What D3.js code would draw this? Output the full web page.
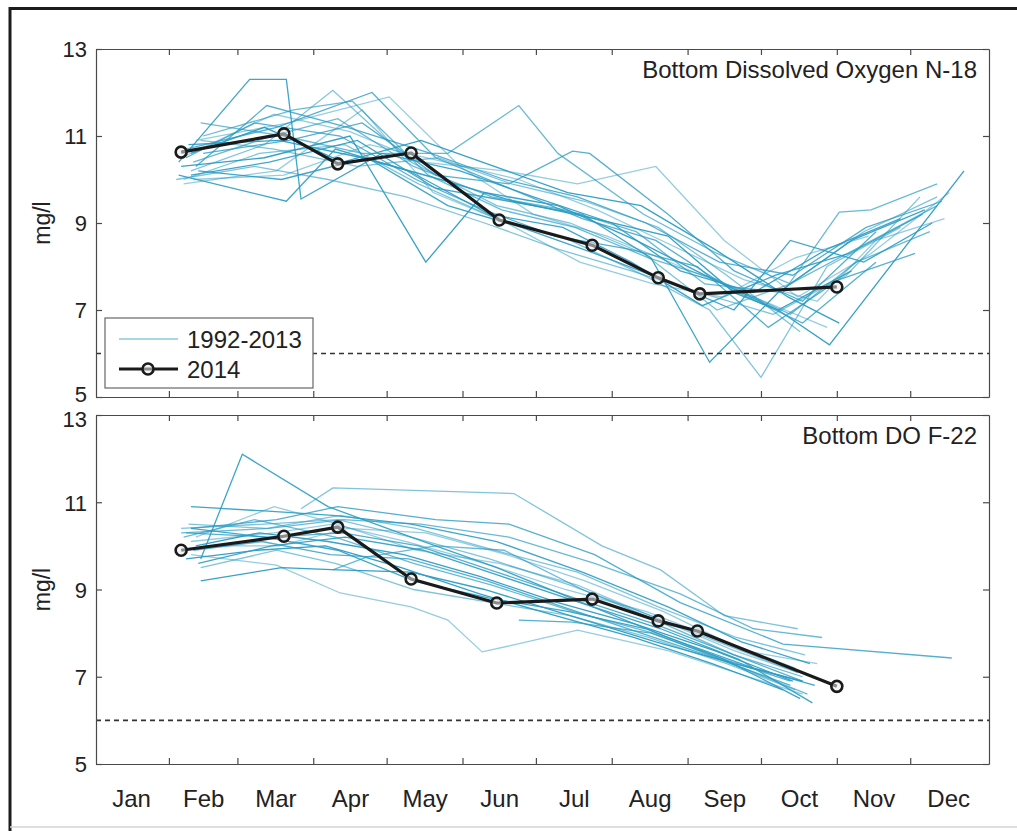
<!DOCTYPE html>
<html>
<head>
<meta charset="utf-8">
<script src="https://cdn.jsdelivr.net/npm/d3@7"></script>
<style>
  html, body { margin: 0; padding: 0; background: #fff; }
  svg { display: block; font-family: "Liberation Sans", Arial, Helvetica, sans-serif; }
</style>
</head>
<body>
<svg id="chart" width="1017" height="831"></svg>
<script>
// ---- axis definitions ----
const monthNames = ["Jan", "Feb", "Mar", "Apr", "May", "Jun", "Jul", "Aug", "Sep", "Oct", "Nov", "Dec"];
const monthStartDays = [31, 59, 90, 120, 151, 181, 212, 243, 273, 304, 334];
const monthMidDays = [15.5, 45, 74.5, 105, 135.5, 166, 196.5, 227.5, 258, 288.5, 319, 349.5];
const yTickValues = [5, 7, 9, 11, 13];
const doStandard = 6;
const legendLabels = ["1992-2013", "2014"];
const panelTitles = ["Bottom Dissolved Oxygen N-18", "Bottom DO F-22"];

// ---- 2014 survey, [day of year, mg/l] ----
const n18Year2014 = [[36, 10.63], [78, 11.05], [100, 10.36], [130, 10.61], [166, 9.07], [204, 8.49], [231, 7.74], [248, 7.37], [304, 7.53]];
const f22Year2014 = [[36, 9.90], [78, 10.22], [100, 10.43], [130, 9.24], [165, 8.69], [204, 8.78], [231, 8.28], [247, 8.05], [304, 6.78]];

// ---- station N-18, 1992-2013 ----
const n18History = [
  [[35, 10.4], [64, 12.3], [79, 12.3], [85, 9.55], [118, 10.6], [150, 10.2], [180, 9.6], [212, 9.0], [240, 7.9], [270, 7.4], [300, 8.4], [330, 9.1]],
  [[40, 10.2], [70, 10.8], [98, 12.05], [130, 10.4], [165, 9.4], [195, 9.0], [225, 8.3], [255, 7.0], [285, 7.6], [315, 8.8], [345, 9.6]],
  [[38, 10.7], [75, 11.2], [114, 12.0], [140, 10.5], [170, 9.8], [200, 9.1], [230, 8.6], [260, 7.5], [290, 6.7], [320, 8.1]],
  [[42, 10.9], [80, 11.3], [121, 11.9], [150, 10.3], [180, 9.2], [210, 8.7], [240, 8.0], [270, 7.3], [300, 6.6]],
  [[36, 10.3], [70, 10.5], [105, 11.0], [136, 8.1], [160, 9.7], [190, 9.4], [222, 8.6], [250, 7.8], [280, 7.0], [310, 7.9]],
  [[44, 11.3], [78, 11.0], [110, 10.6], [145, 10.6], [174, 11.7], [190, 10.6], [225, 9.2], [255, 8.3], [285, 7.6], [315, 8.5], [345, 9.4]],
  [[40, 10.1], [72, 10.4], [108, 10.9], [140, 9.8], [170, 9.5], [200, 9.2], [228, 8.2], [252, 5.8], [280, 7.4], [310, 8.6], [340, 9.3]],
  [[37, 10.0], [68, 10.6], [103, 10.8], [133, 9.9], [165, 9.1], [195, 8.6], [225, 7.8], [252, 7.0], [273, 5.45], [300, 8.0], [330, 8.9]],
  [[45, 10.6], [80, 10.9], [110, 11.3], [140, 10.1], [170, 9.9], [196, 10.65], [203, 10.6], [235, 9.2], [262, 7.9], [290, 7.2], [320, 8.8]],
  [[36, 10.5], [74, 11.5], [105, 11.1], [135, 10.4], [168, 10.2], [198, 9.9], [230, 10.3], [258, 8.6], [288, 7.3], [318, 8.3], [350, 9.7]],
  [[39, 10.8], [76, 10.9], [110, 10.5], [142, 10.0], [172, 9.5], [205, 9.1], [235, 8.7], [262, 7.4], [280, 7.0], [301, 6.2], [356, 10.2]],
  [[41, 10.4], [73, 11.0], [100, 11.4], [131, 10.3], [163, 9.6], [193, 9.3], [222, 8.8], [250, 7.6], [282, 7.4], [305, 9.25], [318, 9.3], [345, 9.9]],
  [[43, 10.2], [77, 10.0], [112, 10.5], [145, 9.4], [175, 8.9], [205, 8.3], [233, 7.7], [262, 7.0], [285, 8.6], [315, 8.1], [343, 9.0]],
  [[34, 10.0], [66, 10.3], [96, 10.0], [128, 9.6], [160, 9.0], [190, 8.4], [220, 7.9], [248, 7.4], [278, 6.9], [308, 7.8], [338, 9.6]],
  [[42, 10.3], [71, 11.7], [104, 11.2], [138, 10.6], [168, 10.0], [198, 9.6], [226, 9.0], [256, 8.1], [286, 7.8], [316, 8.9], [347, 9.5]],
  [[37, 9.9], [75, 10.2], [110, 11.6], [139, 9.7], [169, 9.0], [199, 8.1], [229, 7.6], [257, 7.3], [287, 8.2], [317, 8.7]],
  [[40, 10.6], [70, 11.2], [102, 10.4], [134, 10.9], [164, 10.3], [194, 9.7], [224, 9.4], [254, 8.4], [284, 7.3], [305, 6.7]],
  [[45, 11.0], [82, 11.6], [106, 11.8], [137, 10.1], [167, 9.3], [197, 8.9], [227, 8.2], [255, 7.7], [285, 6.9], [312, 8.1], [342, 8.8]],
  [[35, 10.1], [79, 9.5], [99, 10.7], [129, 10.2], [162, 9.2], [192, 8.9], [220, 8.1], [249, 7.1], [279, 7.8], [309, 8.3], [339, 9.2]],
  [[44, 10.9], [74, 10.7], [108, 10.3], [141, 10.5], [171, 9.9], [201, 9.5], [231, 8.9], [259, 7.8], [289, 6.5]],
  [[38, 10.5], [66, 11.3], [101, 11.0], [132, 10.0], [160, 9.3], [189, 8.7], [219, 8.4], [247, 8.0], [276, 6.6], [305, 7.7], [336, 8.3]],
  [[41, 10.0], [78, 10.1], [113, 10.8], [144, 10.4], [174, 10.0], [206, 9.3], [236, 8.5], [266, 7.7], [296, 7.2], [320, 8.6], [348, 9.1]]
];

// ---- station F-22, 1992-2013 ----
const f22History = [
  [[44, 9.7], [61, 12.1], [96, 10.9], [130, 10.2], [165, 9.5], [200, 8.7], [235, 7.9], [270, 7.2], [295, 6.8]],
  [[85, 10.85], [98, 11.33], [172, 11.2], [208, 10.0], [232, 9.45], [258, 8.4], [288, 8.1]],
  [[40, 10.4], [75, 10.6], [100, 10.9], [140, 10.6], [170, 10.5], [205, 9.8], [240, 8.7], [282, 7.75], [351, 7.43]],
  [[40, 9.8], [75, 9.56], [101, 8.92], [130, 8.6], [145, 8.3], [159, 7.57], [172, 7.73], [198, 8.07], [235, 7.6], [268, 7.0], [290, 6.6]],
  [[44, 9.2], [77, 9.5], [100, 9.45], [130, 9.4], [160, 9.0], [195, 8.4], [230, 7.8], [262, 7.3], [290, 6.9]],
  [[98, 9.45], [112, 9.75], [140, 10.0], [168, 9.9], [200, 9.0], [230, 8.3], [262, 7.5], [290, 7.0]],
  [[40, 10.9], [70, 10.8], [98, 10.7], [130, 10.5], [165, 10.1], [200, 9.4], [235, 8.6], [265, 7.8], [293, 7.3]],
  [[36, 10.4], [70, 10.5], [100, 10.6], [130, 10.2], [162, 9.7], [195, 9.1], [228, 8.4], [260, 7.7], [288, 7.1]],
  [[38, 10.3], [72, 10.2], [102, 10.3], [133, 10.0], [165, 9.4], [197, 8.8], [230, 8.2], [262, 7.5], [290, 6.9]],
  [[40, 10.1], [74, 10.3], [98, 10.5], [128, 10.1], [160, 9.6], [193, 9.0], [226, 8.5], [258, 7.8], [287, 7.2]],
  [[42, 10.0], [68, 10.3], [96, 10.1], [127, 9.8], [158, 9.3], [190, 8.7], [222, 8.2], [254, 7.6], [286, 6.9]],
  [[37, 10.2], [66, 10.6], [99, 10.2], [131, 9.6], [163, 9.1], [196, 8.5], [229, 8.0], [261, 7.3], [292, 6.6]],
  [[43, 9.6], [73, 10.0], [103, 10.2], [135, 9.9], [167, 9.3], [199, 8.7], [232, 8.1], [264, 7.4], [294, 6.4]],
  [[39, 10.5], [71, 10.4], [101, 10.7], [132, 10.4], [164, 9.9], [198, 9.4], [231, 8.6], [263, 7.9], [291, 7.5]],
  [[41, 9.9], [69, 10.1], [97, 9.8], [129, 9.7], [161, 9.2], [192, 8.6], [224, 8.0], [256, 7.4], [285, 6.8]],
  [[45, 10.0], [76, 10.0], [104, 10.4], [136, 10.3], [169, 9.8], [201, 9.2], [233, 8.5], [266, 7.6], [296, 7.3]],
  [[38, 9.7], [67, 9.9], [95, 10.0], [126, 9.5], [158, 8.9], [189, 8.4], [221, 7.9], [253, 7.3], [282, 6.7]],
  [[36, 10.3], [72, 10.4], [102, 10.6], [134, 10.5], [170, 10.2], [205, 9.6], [240, 8.9], [270, 8.1], [298, 7.9]],
  [[40, 10.4], [70, 10.2], [100, 9.9], [131, 9.2], [162, 8.8], [194, 8.5], [226, 8.1], [258, 7.4], [289, 6.5]],
  [[44, 9.5], [75, 9.9], [99, 9.6], [131, 9.0], [163, 8.7], [195, 8.4], [227, 7.9], [259, 7.3], [287, 6.7]],
  [[174, 8.3], [196, 8.25], [228, 8.0], [258, 7.4], [285, 6.9]],
  [[42, 10.2], [74, 10.9], [100, 10.5], [132, 9.9], [166, 9.6], [198, 9.1], [232, 8.3], [262, 7.6], [288, 7.1]]
];

// ---- layout ----
const svg = d3.select("#chart");
const left = 96, right = 989;
const panels = [
  { top: 49, bottom: 397, history: n18History, current: n18Year2014, title: panelTitles[0], legend: true, dashFrom: left },
  { top: 415, bottom: 764, history: f22History, current: f22Year2014, title: panelTitles[1], legend: false, dashFrom: left }
];

const x = d3.scaleLinear().domain([1.2, 366.2]).range([left, right]);
const histColor = "#2a9cc3";
const boxColor = "#4a4a4a";

// figure frame
svg.append("rect").attr("x", 0).attr("y", 0).attr("width", 1017).attr("height", 831).attr("fill", "#fff");
svg.append("path").attr("d", "M10,831 L10,8.5 L1017,8.5").attr("fill", "none").attr("stroke", "#1c1c1c").attr("stroke-width", 3);
svg.append("line").attr("x1", 10).attr("x2", 1017).attr("y1", 827).attr("y2", 827).attr("stroke", "#d4d4d4").attr("stroke-width", 1.5);

panels.forEach((p, i) => {
  const y = d3.scaleLinear().domain([5, 13]).range([p.bottom, p.top]);
  const g = svg.append("g");

  // 1992-2013 traces
  const line = d3.line().x(d => x(d[0])).y(d => y(d[1]));
  g.append("g").selectAll("path").data(p.history).join("path")
    .attr("d", line)
    .attr("fill", "none")
    .attr("stroke", histColor)
    .attr("stroke-width", 1.3)
    .attr("stroke-opacity", (d, k) => [0.9, 0.6, 0.8, 0.5, 0.95, 0.7][k % 6]);

  // 6 mg/l reference
  g.append("line")
    .attr("x1", x.range()[0]).attr("x2", right)
    .attr("y1", y(doStandard)).attr("y2", y(doStandard))
    .attr("stroke", "#333").attr("stroke-width", 1.6)
    .attr("stroke-dasharray", "5,4");

  // 2014 trace
  g.append("path").datum(p.current)
    .attr("d", line)
    .attr("fill", "none")
    .attr("stroke", "#1a1a1a")
    .attr("stroke-width", 3.2)
    .attr("stroke-linejoin", "round");
  g.append("g").selectAll("circle").data(p.current).join("circle")
    .attr("cx", d => x(d[0])).attr("cy", d => y(d[1]))
    .attr("r", 5.5)
    .attr("fill", "rgba(235,235,235,0.55)")
    .attr("stroke", "#1a1a1a").attr("stroke-width", 2.6);

  // axes box with inward ticks on all sides
  const axL = d3.axisLeft(y).tickValues(yTickValues).tickSizeInner(-6).tickSizeOuter(0).tickPadding(9).tickFormat(d3.format("d"));
  const axR = d3.axisRight(y).tickValues(yTickValues).tickSizeInner(-6).tickSizeOuter(0).tickFormat("");
  const axB = d3.axisBottom(x).tickValues(monthStartDays).tickSizeInner(-6).tickSizeOuter(0).tickFormat("");
  const axT = d3.axisTop(x).tickValues(monthStartDays).tickSizeInner(-6).tickSizeOuter(0).tickFormat("");

  const gl = g.append("g").attr("transform", `translate(${left},0)`).call(axL);
  g.append("g").attr("transform", `translate(${right},0)`).call(axR);
  g.append("g").attr("transform", `translate(0,${p.bottom})`).call(axB);
  g.append("g").attr("transform", `translate(0,${p.top})`).call(axT);
  g.selectAll(".domain").attr("stroke", boxColor).attr("stroke-width", 1.2);
  g.selectAll(".tick line").attr("stroke", boxColor).attr("stroke-width", 1.2);
  gl.selectAll(".tick text")
    .attr("font-size", 22)
    .attr("fill", "#222")
    .attr("dy", d => (i === 0 && d === 5) ? "0.2em" : "0.36em");
  gl.selectAll(".tick").filter(d => i === 1 && d === 13).select("text").attr("dy", "0.5em");

  // y label
  g.append("text")
    .attr("transform", `translate(42,${(p.top + p.bottom) / 2}) rotate(-90)`)
    .attr("text-anchor", "middle")
    .attr("dominant-baseline", "central")
    .attr("font-size", 23)
    .attr("fill", "#222")
    .text("mg/l");

  // panel title
  g.append("text")
    .attr("x", 977).attr("y", p.top + 29)
    .attr("text-anchor", "end")
    .attr("font-size", 24)
    .attr("fill", "#222")
    .text(p.title);

  // legend
  if (p.legend) {
    const lg = g.append("g");
    lg.append("rect").attr("x", 105).attr("y", 318).attr("width", 208).attr("height", 70)
      .attr("fill", "#fff").attr("stroke", "#666").attr("stroke-width", 1.2);
    lg.append("line").attr("x1", 119).attr("x2", 178).attr("y1", 339).attr("y2", 339)
      .attr("stroke", histColor).attr("stroke-opacity", 0.55).attr("stroke-width", 1.5);
    lg.append("line").attr("x1", 119).attr("x2", 178).attr("y1", 369).attr("y2", 369)
      .attr("stroke", "#1a1a1a").attr("stroke-width", 3.2);
    lg.append("circle").attr("cx", 148).attr("cy", 369).attr("r", 5.5)
      .attr("fill", "rgba(235,235,235,0.55)").attr("stroke", "#1a1a1a").attr("stroke-width", 2.6);
    lg.selectAll("text.lab").data(legendLabels).join("text")
      .attr("class", "lab")
      .attr("x", 187).attr("y", (d, k) => 339 + k * 30)
      .attr("dy", "0.36em")
      .attr("font-size", 24)
      .attr("fill", "#222")
      .text(d => d);
  }

  // month names under the lower panel
  if (i === panels.length - 1) {
    const am = d3.axisBottom(x).tickValues(monthMidDays).tickSize(0).tickPadding(0)
      .tickFormat((d, k) => monthNames[k]);
    const gm = g.append("g").attr("transform", `translate(0,${p.bottom})`).call(am);
    gm.select(".domain").remove();
    gm.selectAll(".tick text").attr("font-size", 24).attr("fill", "#222").attr("dy", "1.1em").attr("y", 17);
  }
});
</script>
</body>
</html>
